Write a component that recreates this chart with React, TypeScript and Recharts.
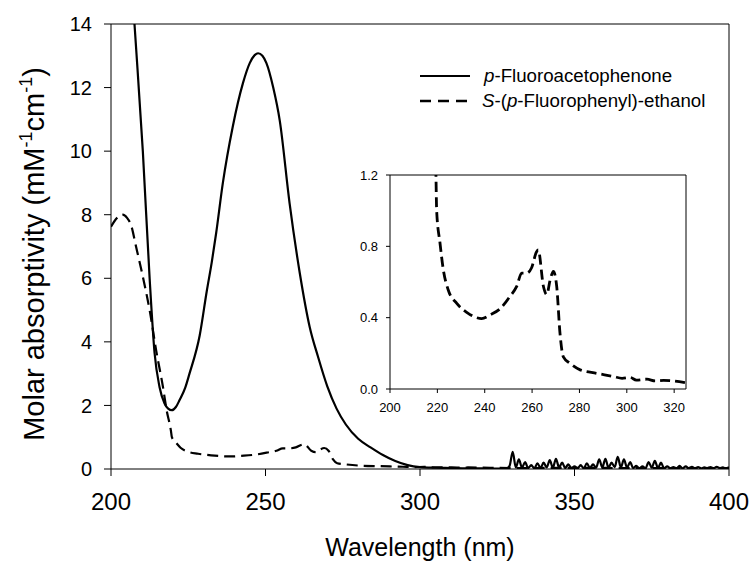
import React from 'react';
import { LineChart, Line, XAxis, YAxis, Label, Legend, ReferenceLine } from 'recharts';

const FONT = 'Arial, "Liberation Sans", sans-serif';

// p-Fluoroacetophenone (solid)
const solidWl = [
  206, 207.6, 210.3, 212.5, 214.1, 215.7, 217.3, 218.5, 219.7, 221, 222.2, 224, 225.4, 228.7, 231, 232.6,
  234, 236.2, 239.4, 242.7, 244.9, 246.5, 247.6, 249, 250.3, 252.5, 254.6, 257.8, 261.1, 264.3, 267, 270,
  273, 276, 280, 284, 288, 292, 296, 300, 305, 310, 315, 320, 325,
];
const solidAbs = [
  16.4, 14.0, 10.0, 6.0, 3.65, 2.58, 2.07, 1.9, 1.85, 1.95, 2.17, 2.55, 3.0, 4.2, 5.6, 6.5,
  7.4, 9.0, 10.77, 12.14, 12.77, 13.02, 13.08, 13.0, 12.77, 12.0, 10.97, 8.36, 6.16, 4.47, 3.53, 2.6,
  1.9, 1.4, 0.95, 0.68, 0.44, 0.25, 0.12, 0.06, 0.04, 0.03, 0.02, 0.02, 0.01,
];
// noisy tail, one reading per nm from 328 nm
const solidNoiseStart = 328;
const solidNoise = [
  0.02, 0.1, 0.54, 0.05, 0.3, 0.04, 0.22, 0.03, 0.12, 0.02, 0.18, 0.03, 0.2, 0.05, 0.28, 0.04,
  0.32, 0.05, 0.2, 0.03, 0.15, 0.02, 0.08, 0.02, 0.12, 0.02, 0.18, 0.03, 0.15, 0.04, 0.3, 0.05,
  0.32, 0.04, 0.2, 0.06, 0.38, 0.05, 0.3, 0.04, 0.22, 0.03, 0.1, 0.02, 0.08, 0.03, 0.22, 0.04,
  0.26, 0.03, 0.2, 0.02, 0.08, 0.02, 0.06, 0.02, 0.1, 0.02, 0.08, 0.03, 0.07, 0.02, 0.06, 0.02,
  0.05, 0.03, 0.06, 0.02, 0.07, 0.03, 0.05, 0.02, 0.06,
];

// S-(p-Fluorophenyl)-ethanol (dashed)
const dashWl = [
  200, 201.5, 203.8, 205.2, 206.5, 208.1, 210.3, 212.5, 214.6, 216.8, 218, 219.4, 219.7, 221.1, 222.5,
  224.6, 228.2, 232.4, 236.6, 238.7, 242.2, 246.5, 250.7, 253.5, 255.6, 257.7, 259.8, 261.9, 262.6,
  264.8, 266.2, 267.6, 269, 270.4, 271.8, 273.2, 276, 280.3, 287.3, 294.4, 298, 301.4, 304, 308.5,
  312, 315.5, 320, 325, 330, 350, 370, 400,
];
const dashAbs = [
  7.62, 7.85, 8.0, 7.9, 7.67, 7.0, 6.05, 5.0, 3.74, 2.59, 1.85, 1.2, 1.0, 0.82, 0.67,
  0.555, 0.48, 0.43, 0.4, 0.395, 0.415, 0.45, 0.52, 0.575, 0.65, 0.65, 0.68, 0.77, 0.78,
  0.575, 0.53, 0.61, 0.66, 0.575, 0.31, 0.18, 0.144, 0.107, 0.088, 0.07, 0.06, 0.065, 0.05, 0.055,
  0.045, 0.048, 0.045, 0.035, 0.03, 0.035, 0.03, 0.03,
];

const xTicks = [200, 250, 300, 350, 400];
const yTicks = [0, 2, 4, 6, 8, 10, 12, 14];
const insetXTicks = [200, 220, 240, 260, 280, 300, 320];
const insetYTicks = [0, 0.4, 0.8, 1.2];

const buildRows = () => {
  const m = new Map<number, any>();
  const put = (w: number, key: string, v: number) => {
    const r = m.get(w) || { wl: w };
    r[key] = v;
    m.set(w, r);
  };
  solidWl.forEach((w, i) => put(w, 'solid', solidAbs[i]));
  solidNoise.forEach((v, i) => put(solidNoiseStart + i, 'solid', v));
  dashWl.forEach((w, i) => put(w, 'dashed', dashAbs[i]));
  return Array.from(m.values()).sort((a, b) => a.wl - b.wl);
};

const mainRows = buildRows();
const insetRows = dashWl
  .map((w, i) => ({ wl: w, dashed: dashAbs[i] }))
  .filter((r) => r.wl >= 216 && r.wl <= 325);

const YTitle = () => (
  <text transform="translate(44,254) rotate(-90)" textAnchor="middle" fontSize={29} fontFamily={FONT} fill="#000">
    Molar absorptivity (mM
    <tspan dy={-12} fontSize={18}>-1</tspan>
    <tspan dy={12}>cm</tspan>
    <tspan dy={-12} fontSize={18}>-1</tspan>
    <tspan dy={12}>)</tspan>
  </text>
);

const XTitle = () => (
  <text x={420} y={556} textAnchor="middle" fontSize={25} fontFamily={FONT} fill="#000">
    Wavelength (nm)
  </text>
);

const LegendBox = () => (
  <div style={{ fontFamily: FONT, fontSize: 18.7, color: '#000', lineHeight: '24.5px' }}>
    <div style={{ display: 'flex', alignItems: 'center', height: 24.5 }}>
      <svg width={66} height={24}>
        <line x1={2} y1={12} x2={52} y2={12} stroke="#000" strokeWidth={2.2} />
      </svg>
      <span><i>p</i>-Fluoroacetophenone</span>
    </div>
    <div style={{ display: 'flex', alignItems: 'center', height: 24.5 }}>
      <svg width={64} height={24}>
        <line x1={2} y1={12} x2={52} y2={12} stroke="#000" strokeWidth={2.5} strokeDasharray="11 7" />
      </svg>
      <span><i>S</i>-(<i>p</i>-Fluorophenyl)-ethanol</span>
    </div>
  </div>
);

export default function App() {
  return (
    <div style={{ position: 'absolute', left: 0, top: 0, width: 755, height: 569, background: '#fff' }}>
      <LineChart width={755} height={569} data={mainRows} margin={{ top: 24, right: 26, bottom: 0, left: 0 }}>
        <XAxis
          dataKey="wl"
          type="number"
          domain={[200, 400]}
          ticks={xTicks}
          interval={0}
          allowDataOverflow
          height={100}
          tickSize={7}
          tickMargin={17}
          stroke="#000"
          tick={{ fontSize: 24, fill: '#000', fontFamily: FONT }}
        >
          <Label content={XTitle} />
        </XAxis>
        <YAxis
          type="number"
          domain={[0, 14]}
          ticks={yTicks}
          interval={0}
          allowDataOverflow
          width={111}
          tickSize={7}
          tickMargin={12}
          stroke="#000"
          tick={{ fontSize: 20, fill: '#000', fontFamily: FONT }}
        >
          <Label content={YTitle} />
        </YAxis>
        <ReferenceLine y={14} stroke="#000" strokeWidth={1} ifOverflow="extendDomain" />
        <ReferenceLine x={400} stroke="#000" strokeWidth={1} ifOverflow="extendDomain" />
        <Line dataKey="solid" type="monotone" stroke="#000" strokeWidth={2.2} dot={false} connectNulls isAnimationActive={false} />
        <Line dataKey="dashed" type="monotone" stroke="#000" strokeWidth={2.2} strokeDasharray="11 6" dot={false} connectNulls isAnimationActive={false} />
        <Legend
          layout="horizontal"
          verticalAlign="middle"
          align="center"
          content={LegendBox}
          wrapperStyle={{ position: 'absolute', left: 418, top: 64, width: 330, height: 50 }}
        />
      </LineChart>

      <div style={{ position: 'absolute', left: 330, top: 165 }}>
        <LineChart width={370} height={254} data={insetRows} margin={{ top: 10, right: 14, bottom: 0, left: 0 }}>
          <XAxis
            dataKey="wl"
            type="number"
            domain={[200, 325]}
            ticks={insetXTicks}
            interval={0}
            allowDataOverflow
            height={30}
            tickSize={4}
            tickMargin={10}
            stroke="#000"
            tick={{ fontSize: 13, fill: '#000', fontFamily: FONT }}
          />
          <YAxis
            type="number"
            domain={[0, 1.2]}
            ticks={insetYTicks}
            interval={0}
            allowDataOverflow
            width={60}
            tickSize={4}
            tickMargin={8}
            stroke="#000"
            tickFormatter={(v: number) => v.toFixed(1)}
            tick={{ fontSize: 13, fill: '#000', fontFamily: FONT }}
          />
          <ReferenceLine y={1.2} stroke="#000" strokeWidth={1} />
          <ReferenceLine x={325} stroke="#000" strokeWidth={1} />
          <Line dataKey="dashed" type="monotone" stroke="#000" strokeWidth={2.8} strokeDasharray="10 5" dot={false} isAnimationActive={false} />
        </LineChart>
      </div>
    </div>
  );
}
